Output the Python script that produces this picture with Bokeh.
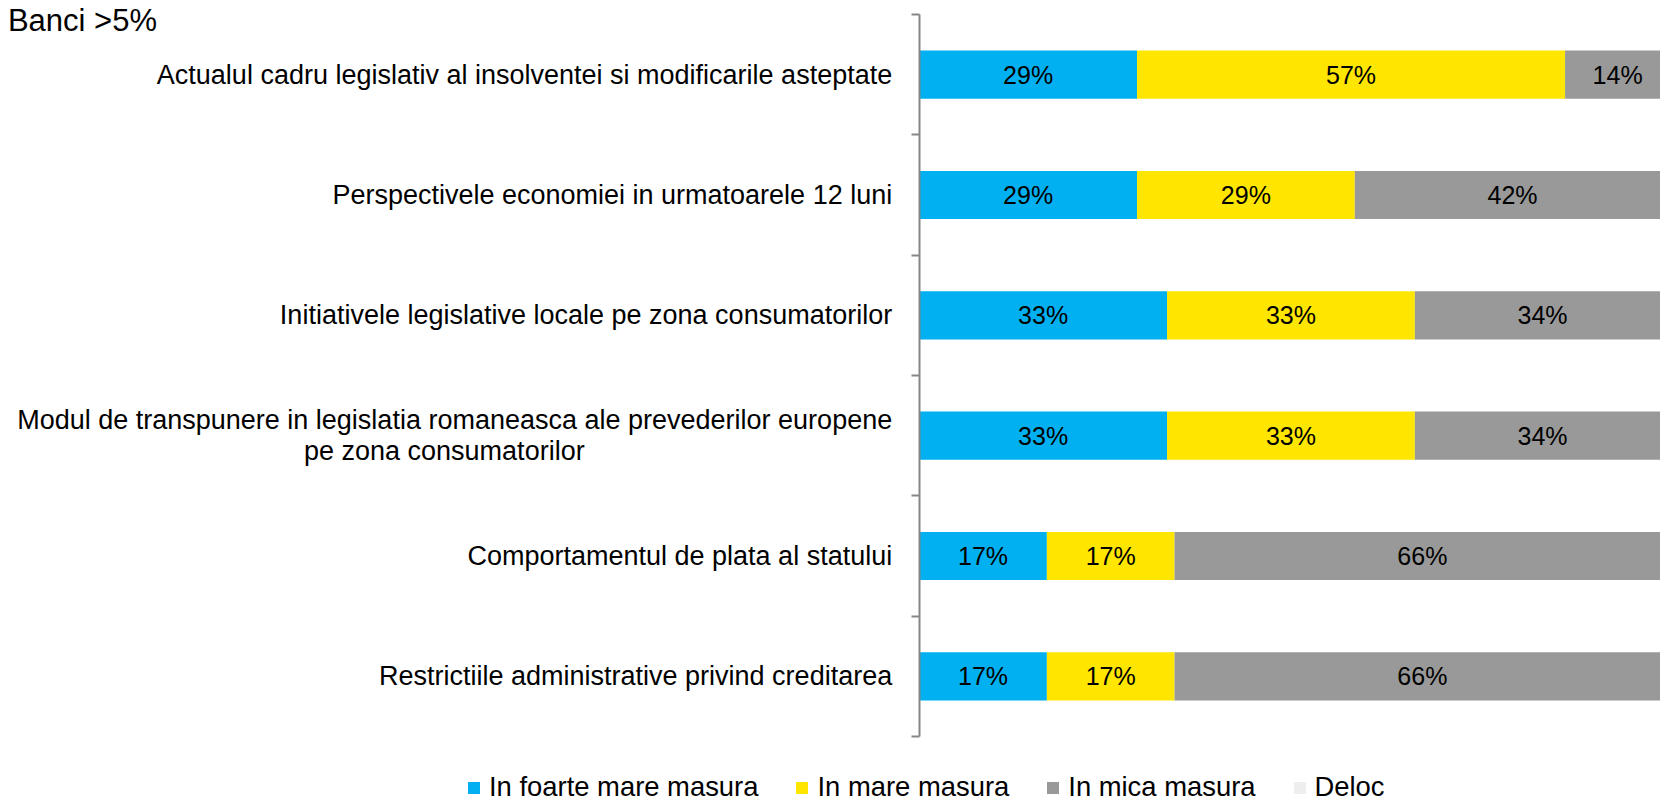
from bokeh.plotting import figure
from bokeh.models import ColumnDataSource, Range1d, FixedTicker, Legend, LegendItem, Label
from bokeh.core.properties import value
from bokeh.embed import file_html
from bokeh.resources import INLINE

# ---- data ----
title_text = "Banci >5%"
categories = [
    "Actualul cadru legislativ al insolventei si modificarile asteptate",
    "Perspectivele economiei in urmatoarele 12 luni",
    "Initiativele legislative locale pe zona consumatorilor",
    "Modul de transpunere in legislatia romaneasca ale prevederilor europene\npe zona consumatorilor",
    "Comportamentul de plata al statului",
    "Restrictiile administrative privind creditarea",
]
foarte_mare = [29, 29, 33, 33, 17, 17]
mare = [57, 29, 33, 33, 17, 17]
mica = [14, 42, 34, 34, 66, 66]
deloc = [0, 0, 0, 0, 0, 0]
series_names = ["In foarte mare masura", "In mare masura", "In mica masura", "Deloc"]
colors = ["#00B0F0", "#FFE600", "#999999", "#EEEEEE"]

FONT = "Liberation Sans"
AXIS_GRAY = "#868686"
W, H = 1660, 801

n = len(categories)
ypos = [i + 0.5 for i in range(n)]
keys = ["s0", "s1", "s2", "s3"]
series = [foarte_mare, mare, mica, deloc]

src = ColumnDataSource(dict(y=ypos, s0=foarte_mare, s1=mare, s2=mica, s3=deloc))

# frame fills the whole canvas; the category axis is drawn at x=0 inside it
px_per_pct = 7.51
axis_px = 918.7
band_px = 120.33
top_px = 14.0
x_start = -axis_px / px_per_pct
x_end = (W - axis_px) / px_per_pct
y_top = -top_px / band_px
y_bottom = n + (H - top_px - n * band_px) / band_px

p = figure(width=W, height=H,
           x_range=Range1d(x_start, x_end), y_range=Range1d(y_bottom, y_top),
           x_axis_location=None,
           output_backend="svg", toolbar_location=None,
           min_border_left=0, min_border_right=0,
           min_border_top=0, min_border_bottom=0,
           outline_line_color=None)
p.xgrid.visible = False
p.ygrid.visible = False

renderers = p.hbar_stack(keys, y="y", height=0.4, color=colors, source=src, line_color=None)

# value labels in the middle of each segment
lx, ly, lt = [], [], []
for i in range(n):
    left = 0
    for s in series:
        v = s[i]
        if v > 0:
            lx.append(left + v / 2)
            ly.append(ypos[i])
            lt.append(f"{v}%")
        left += v
p.text(x="x", y="y", text="t", source=ColumnDataSource(dict(x=lx, y=ly, t=lt)),
       text_align="center", text_baseline="middle",
       text_font=value(FONT), text_font_size="25px", text_color="#000000")


def centred(label):
    # pad the last line of a wrapped label so it sits centred under the first
    if "\n" not in label:
        return label
    first, last = label.split("\n")
    return first + "\n" + last + "\u00a0" * 41


ax = p.yaxis[0]
ax.fixed_location = 0
ax.bounds = (0, n)
ax.ticker = FixedTicker(ticks=ypos, minor_ticks=list(range(n + 1)))
ax.major_label_overrides = {y: centred(c) for y, c in zip(ypos, categories)}
ax.major_tick_out = 0
ax.major_tick_in = 0
ax.minor_tick_out = 8
ax.minor_tick_in = 0
ax.minor_tick_line_color = AXIS_GRAY
ax.minor_tick_line_width = 2
ax.axis_line_color = AXIS_GRAY
ax.axis_line_width = 2
ax.major_label_standoff = 19
ax.major_label_text_font = FONT
ax.major_label_text_font_size = "27px"
ax.major_label_text_line_height = 1.04
ax.major_label_text_color = "#000000"

p.add_layout(Label(x=x_start + 7.4 / px_per_pct, y=y_top + 19.5 / band_px,
                   text=title_text, text_align="left",
                   text_baseline="middle", text_font=FONT,
                   text_font_size="31px", text_color="#000000"))

legend = Legend(items=[LegendItem(label=nm, renderers=[r]) for nm, r in zip(series_names, renderers)],
                location=(466, -2), orientation="horizontal",
                label_text_font=FONT, label_text_font_size="27.4px", label_text_color="#000000",
                glyph_width=15, glyph_height=15, label_standoff=8, spacing=36,
                label_height=22, padding=0, margin=0,
                border_line_color=None, background_fill_alpha=0)
p.add_layout(legend, "center")

open("out.html", "w").write(file_html(p, INLINE))
